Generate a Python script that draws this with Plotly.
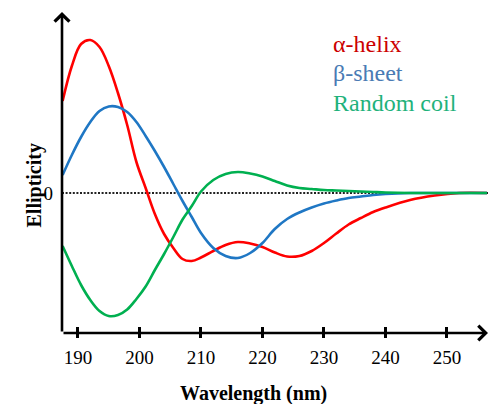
import plotly.graph_objects as go

# ---- data ----
wavelength = [187.5, 189, 190.5, 192, 193.5, 195, 196.5, 198, 199.5, 201, 202.5, 204,
              205.5, 207, 208.5, 210, 212, 214, 216, 218, 220, 222, 224, 226, 228,
              230, 232, 234, 236, 238, 240, 244, 248, 252, 256.5]

alpha_helix = [18.4, 25.4, 29.8, 30.6, 29.2, 25.4, 20.0, 13.6, 6.2, 1.0, -4.2, -8.2,
               -11.0, -13.2, -13.6, -12.9, -11.6, -10.4, -9.8, -10.1, -10.8, -11.9, -12.7, -12.6, -11.6,
               -10.0, -8.1, -6.3, -5.0, -3.8, -2.9, -1.4, -0.5, 0.0, 0.0]

beta_sheet = [3.6, 7.6, 11.2, 14.2, 16.4, 17.3, 17.2, 16.2, 14.2, 11.4, 8.4, 5.2,
              1.8, -1.6, -4.8, -8.0, -11.0, -12.6, -13.0, -12.0, -10.0, -7.2, -5.2, -3.9, -2.9,
              -2.1, -1.5, -1.0, -0.7, -0.4, -0.2, 0.0, 0.0, 0.0, 0.0]

random_coil = [-10.6, -14.6, -18.4, -21.4, -23.6, -24.6, -24.4, -23.3, -21.2, -18.7, -15.4, -12.2,
               -8.8, -5.3, -2.6, 0.3, 2.6, 3.8, 4.2, 3.9, 3.3, 2.4, 1.5, 1.0, 0.8,
               0.6, 0.5, 0.4, 0.3, 0.2, 0.1, 0.0, 0.0, 0.0, 0.0]

series_names = ["α-helix", "β-sheet", "Random coil"]
x_ticks = [190, 200, 210, 220, 230, 240, 250]
y_ticks = [0]

# ---- styling ----
FONT = "'Times New Roman', 'Liberation Serif', serif"
line_colors = ["#ff0000", "#1f77c4", "#00b050"]
text_colors = ["#cc0000", "#4a7bb4", "#1fb27c"]

W, H = 489, 404
ML, MR, MT, MB = 62, 1, 12, 66
plot_w = W - ML - MR
plot_h = H - MT - MB
gap = 5  # px between x axis line and paper bottom (ticks cross the line)
dom0 = gap / plot_h

fig = go.Figure()
for name, ys, col in zip(series_names, [alpha_helix, beta_sheet, random_coil], line_colors):
    fig.add_trace(go.Scatter(x=wavelength, y=ys, mode="lines", name=name,
                             line=dict(color=col, width=2.6, shape="spline", smoothing=1.0),
                             showlegend=False, hoverinfo="skip"))

# dotted zero line
fig.add_shape(type="line", xref="paper", x0=0, x1=1, yref="y", y0=0, y1=0,
              line=dict(color="#222222", width=2, dash="2px,1.6px"), layer="below")

# axis lines with arrow heads
fig.add_annotation(xref="paper", yref="paper", x=0, y=1, ax=0, ay=plot_h - gap,
                   axref="pixel", ayref="pixel", text="", showarrow=True,
                   arrowhead=4, arrowsize=1.1, arrowwidth=2.6, arrowcolor="black")
fig.add_annotation(xref="paper", yref="paper", x=1, y=dom0, ax=-plot_w, ay=0,
                   axref="pixel", ayref="pixel", text="", showarrow=True,
                   arrowhead=4, arrowsize=1.1, arrowwidth=2.6, arrowcolor="black")

# axis titles
fig.add_annotation(xref="paper", yref="paper", x=0, y=(H - MB - 186) / plot_h, xshift=-42,
                   text="<b>Ellipticity</b>", textangle=-90, showarrow=False,
                   font=dict(family=FONT, size=20, color="black"))
fig.add_annotation(xref="paper", yref="paper", x=(253.5 - ML) / plot_w, y=0, yshift=-55,
                   yanchor="middle", text="<b>Wavelength (nm)</b>", showarrow=False,
                   font=dict(family=FONT, size=20, color="black"))

# legend text
legend_y = [44, 72.6, 102.6]
for name, col, yy in zip(series_names, text_colors, legend_y):
    fig.add_annotation(xref="paper", yref="paper", x=(331 - ML) / plot_w, y=(H - MB - yy) / plot_h,
                       xanchor="left", yanchor="middle", text=name, showarrow=False,
                       font=dict(family=FONT, size=24, color=col))

fig.update_layout(
    width=W, height=H,
    margin=dict(l=ML, r=MR, t=MT, b=MB, pad=0),
    plot_bgcolor="white", paper_bgcolor="white",
    font=dict(family=FONT, color="black"),
    showlegend=False,
    hovermode=False,
    xaxis=dict(range=[187.4, 187.4 + plot_w / 6.15], tickvals=x_ticks,
               ticks="inside", ticklen=11, tickwidth=2.6, tickcolor="black",
               showline=False, showgrid=False, zeroline=False,
               anchor="free", position=0, ticklabelstandoff=6,
               tickfont=dict(family=FONT, size=19, color="black")),
    yaxis=dict(range=[-28, 36.2], domain=[dom0, 1], tickvals=y_ticks,
               ticks="", showline=False, showgrid=False, zeroline=False,
               ticklabelstandoff=8,
               tickfont=dict(family=FONT, size=19, color="black")),
)

fig.write_html("out.html", config={"displayModeBar": False},
               post_script="document.body.style.margin='0';document.body.style.overflow='hidden';")
